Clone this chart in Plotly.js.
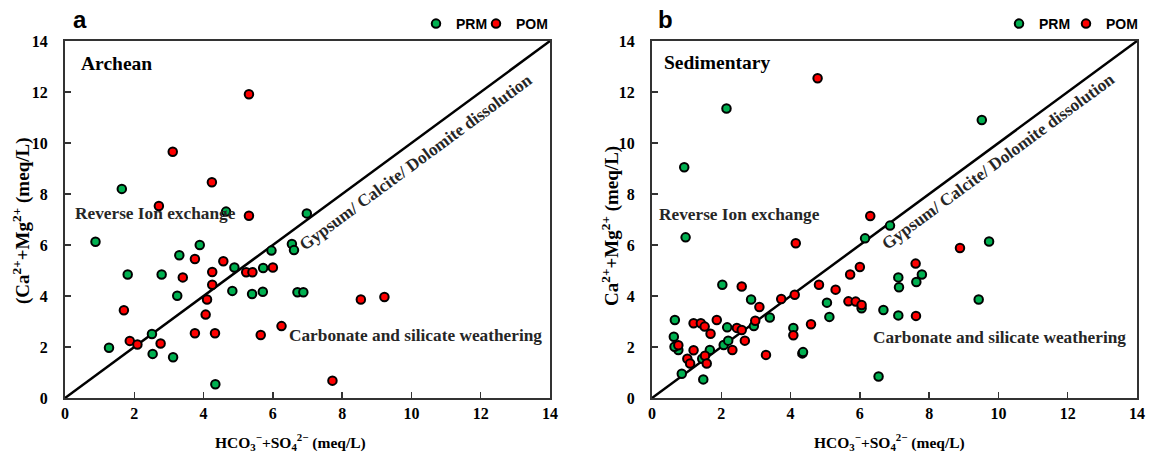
<!DOCTYPE html>
<html>
<head>
<meta charset="utf-8">
<script src="https://cdn.plot.ly/plotly-3.0.1.min.js"></script>
<style>html,body{margin:0;padding:0;background:#fff;}#chart{width:1151px;height:461px;}</style>
</head>
<body>
<div id="chart"></div>
<script>
// ---- Data ----
var tickVals = [0, 2, 4, 6, 8, 10, 12, 14];
var tickText = ["0", "2", "4", "6", "8", "10", "12", "14"];

// Panel a (Archean)
var aPrmX = [1.64, 4.65, 6.98, 0.88, 3.89, 6.55, 6.61, 5.96, 3.30, 4.89, 5.72, 1.81, 2.79, 4.83, 5.40, 5.71, 6.71, 6.88, 3.24, 2.51, 1.27, 2.53, 3.12, 4.34];
var aPrmY = [8.20, 7.31, 7.24, 6.13, 6.00, 6.04, 5.80, 5.78, 5.60, 5.12, 5.10, 4.84, 4.84, 4.20, 4.08, 4.17, 4.15, 4.15, 4.01, 2.51, 1.97, 1.73, 1.60, 0.54];
var aPomX = [5.31, 3.11, 4.24, 2.71, 5.31, 3.75, 4.57, 5.23, 5.41, 6.00, 4.25, 3.40, 4.25, 4.10, 1.70, 4.06, 6.25, 3.75, 4.33, 5.65, 1.87, 2.09, 2.76, 8.54, 9.22, 7.72];
var aPomY = [11.91, 9.66, 8.46, 7.53, 7.15, 5.45, 5.36, 4.93, 4.93, 5.12, 4.94, 4.73, 4.44, 3.86, 3.44, 3.27, 2.82, 2.54, 2.54, 2.47, 2.24, 2.10, 2.14, 3.86, 3.96, 0.68];

// Panel b (Sedimentary)
var bPrmX = [2.15, 0.93, 6.87, 0.97, 6.15, 2.03, 2.86, 5.05, 6.05, 6.68, 3.40, 5.12, 0.66, 2.94, 2.17, 4.08, 0.63, 0.76, 0.65, 2.07, 2.20, 1.67, 1.45, 4.34, 4.36, 0.86, 1.48, 6.54, 9.52, 9.73, 7.79, 7.11, 7.13, 7.63, 9.43, 7.11];
var bPrmY = [11.35, 9.05, 6.76, 6.30, 6.26, 4.44, 3.86, 3.74, 3.52, 3.45, 3.16, 3.18, 3.06, 2.82, 2.77, 2.75, 2.40, 1.88, 2.01, 2.08, 2.25, 1.88, 1.54, 1.75, 1.80, 0.95, 0.73, 0.84, 10.90, 6.14, 4.84, 4.73, 4.34, 4.55, 3.86, 3.24];
var bPomX = [4.78, 6.30, 4.15, 6.00, 5.72, 2.59, 4.82, 5.30, 3.73, 4.12, 3.10, 5.67, 5.88, 6.05, 1.20, 1.41, 1.52, 1.87, 2.98, 2.45, 2.59, 1.69, 4.59, 4.08, 2.68, 0.76, 1.20, 2.32, 1.02, 1.10, 1.53, 1.58, 3.29, 8.89, 7.61, 7.62];
var bPomY = [12.54, 7.14, 6.07, 5.14, 4.84, 4.37, 4.44, 4.25, 3.88, 4.05, 3.57, 3.79, 3.78, 3.65, 2.93, 2.93, 2.80, 3.06, 3.03, 2.75, 2.67, 2.52, 2.89, 2.46, 2.25, 2.07, 1.87, 1.88, 1.54, 1.35, 1.66, 1.35, 1.69, 5.88, 5.27, 3.22];

var lineXY = [0, 14];
var seriesNames = ["PRM", "POM"];

// ---- Styles ----
var GREEN = "#00b050", RED = "#ff0000";
var serif = "Liberation Serif";
var sans = "Liberation Sans";

function pts(x, y, name, color, xa, ya, leg) {
  return {
    type: "scatter", mode: "markers", x: x, y: y, name: name,
    xaxis: xa, yaxis: ya, legend: leg,
    marker: {color: color, size: 8.5, line: {color: "#000", width: 2}},
    hoverinfo: "x+y"
  };
}
function diag(xa, ya) {
  return {type: "scatter", mode: "lines", x: lineXY, y: lineXY, xaxis: xa, yaxis: ya,
    line: {color: "#000", width: 2.5}, showlegend: false, hoverinfo: "skip"};
}

var data = [
  diag("x", "y"),
  pts(aPrmX, aPrmY, seriesNames[0], GREEN, "x", "y", "legend"),
  pts(aPomX, aPomY, seriesNames[1], RED, "x", "y", "legend2"),
  diag("x2", "y2"),
  pts(bPrmX, bPrmY, seriesNames[0], GREEN, "x2", "y2", "legend3"),
  pts(bPomX, bPomY, seriesNames[1], RED, "x2", "y2", "legend4")
];

var W = 1151, H = 461;
function px(v) { return v / W; }
function py(v) { return 1 - v / H; }

function axis(dom, anchor) {
  return {
    domain: dom, anchor: anchor, range: [0, 14], tickmode: "array", tickvals: tickVals, ticktext: tickText,
    showgrid: false, zeroline: false, showline: true, mirror: true,
    linecolor: "#333", linewidth: 2, ticks: "inside", ticklen: 6, tickwidth: 1.5, tickcolor: "#333",
    tickfont: {family: serif, size: 16, color: "#000", weight: 700}, fixedrange: true
  };
}
var xa = axis([px(65), px(550)], "y"); xa.ticklabelstandoff = 0;
var ya = axis([1 - 398 / H, 1 - 41 / H], "x"); ya.ticklabelstandoff = 12;
var xb = axis([px(652), px(1137)], "y2"); xb.ticklabelstandoff = 0;
var yb = axis([1 - 398 / H, 1 - 41 / H], "x2"); yb.ticklabelstandoff = 12;

var xLabelFont = {family: serif, size: 15.5, color: "#000", weight: 700};
var yLabelFont = {family: serif, size: 19, color: "#000", weight: 700};
var regionFont = {family: serif, size: 17.3, color: "#262626", weight: 700};
var panelFont = {family: serif, size: 19.5, color: "#000", weight: 700};
var letterFont = {family: sans, size: 24, color: "#000", weight: 700};
var xTitle = "HCO<sub>3</sub><sup>\u2212</sup>+SO<sub>4</sub><sup>2\u2212</sup> (meq/L)";

function ann(t, x, y, xref, yref, extra) {
  var o = {text: t, x: x, y: y, xref: xref, yref: yref, showarrow: false, font: regionFont,
    xanchor: "center", yanchor: "middle"};
  for (var k in extra) o[k] = extra[k];
  return o;
}
var annotations = [
  // panel letters
  ann("a", px(80), py(19), "paper", "paper", {font: letterFont}),
  ann("b", px(665), py(19), "paper", "paper", {font: letterFont}),
  // axis titles
  ann(xTitle, px(290), py(442), "paper", "paper", {font: xLabelFont}),
  ann(xTitle, px(889), py(442), "paper", "paper", {font: xLabelFont}),
  ann("(Ca<sup>2+</sup>+Mg<sup>2+</sup> (meq/L)", px(22), py(221), "paper", "paper", {font: yLabelFont, textangle: -90}),
  ann("Ca<sup>2+</sup>+Mg<sup>2+</sup> (meq/L)", px(611), py(226), "paper", "paper", {font: yLabelFont, textangle: -90}),
  // panel a texts
  ann("Archean", 0.41, 13.1, "x", "y", {xanchor: "left", font: panelFont}),
  ann("Reverse Ion exchange", 0.23, 7.25, "x", "y", {xanchor: "left"}),
  ann("Carbonate and silicate weathering", 6.41, 2.45, "x", "y", {xanchor: "left"}),
  ann("Gypsum/ Calcite/ Dolomite dissolution", 10.12, 9.22, "x", "y", {textangle: -36.4}),
  // panel b texts
  ann("Sedimentary", 0.30, 13.15, "x2", "y2", {xanchor: "left", font: panelFont}),
  ann("Reverse Ion exchange", 0.14, 7.18, "x2", "y2", {xanchor: "left"}),
  ann("Carbonate and silicate weathering", 6.32, 2.39, "x2", "y2", {xanchor: "left"}),
  ann("Gypsum/ Calcite/ Dolomite dissolution", 9.99, 9.29, "x2", "y2", {textangle: -36.4})
];

var legFont = {family: sans, size: 14, color: "#000", weight: 700};
function leg(left) {
  return {orientation: "h", x: px(left), xanchor: "left", y: py(8), yanchor: "top",
    font: legFont, bgcolor: "rgba(0,0,0,0)", itemwidth: 30, tracegroupgap: 0};
}
var layout = {
  width: W, height: H, margin: {l: 0, r: 0, t: 0, b: 0},
  font: {family: serif, size: 16, color: "#000"},
  paper_bgcolor: "#fff", plot_bgcolor: "#fff",
  xaxis: xa, yaxis: ya, xaxis2: xb, yaxis2: yb,
  showlegend: true,
  legend: leg(416), legend2: leg(476), legend3: leg(999), legend4: leg(1066),
  annotations: annotations
};

Plotly.newPlot("chart", data, layout, {displayModeBar: false, staticPlot: true});
</script>
</body>
</html>
